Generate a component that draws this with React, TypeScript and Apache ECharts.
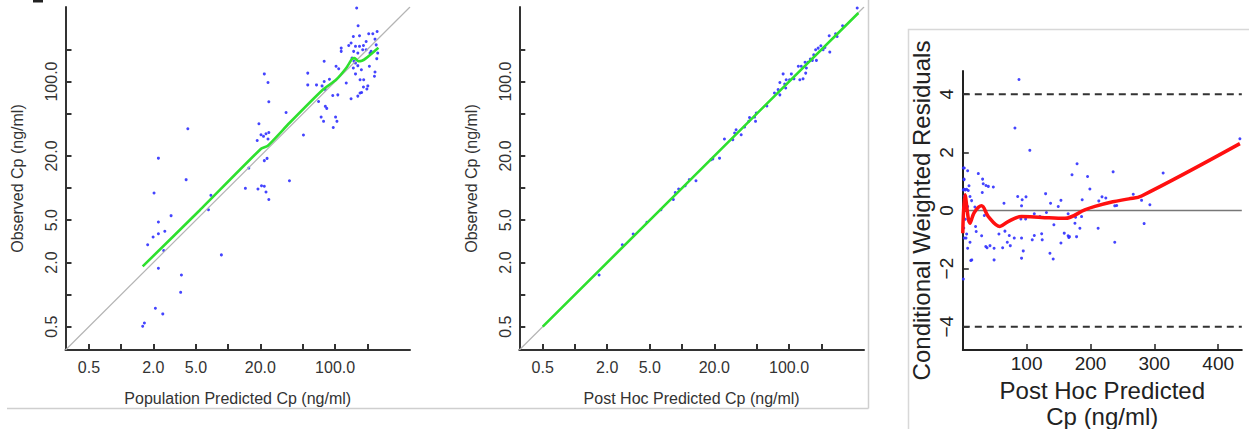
import React, { useEffect, useRef } from 'react';
import * as echarts from 'echarts';

// ---------- Panel 1: population predicted vs observed ----------
const popPred = [159, 164, 148, 169, 206, 225, 247, 134, 141, 155, 169, 195, 184, 236, 114, 114, 149, 163, 181, 195, 217, 250, 242, 79, 144, 150, 155, 163, 148, 209, 245, 212, 55.5, 102, 108, 155, 176, 236, 233, 55.5, 67, 79, 88.5, 75.5, 81, 127, 171, 185, 202, 198, 184, 177, 171, 163, 141, 70, 81, 83.5, 95, 106, 74, 78, 101, 104, 96, 50.6, 34.8, 21.8, 23.6, 24, 19.4, 20.3, 21.4, 22.6, 24, 23.6, 18.7, 21.8, 23.1, 15.6, 14.5, 19, 20.5, 21.8, 22.6, 24, 37.4, 4.2, 2.23, 4.05, 2.03, 6.9, 6.55, 2.93, 2.23, 1.99, 2.23, 2.56, 1.77, 2.5, 8.65, 2.23, 3.66, 3.6, 2.09, 2.45, 1.59, 1.65];
const popObs = [490, 334, 265, 269, 281, 281, 295, 218, 230, 214, 214, 238, 218, 250, 206, 192, 192, 185, 199, 199, 192, 185, 221, 155, 166, 155, 149, 141, 134, 139, 164, 185, 120, 139, 132, 118, 129, 123, 112, 93, 93, 100, 105, 91, 84, 97, 104, 104, 91, 85, 89, 79, 78, 73, 69, 65, 58.5, 56, 74, 75, 46.4, 42.3, 46.4, 42.3, 37, 31.5, 51.3, 118, 98, 64.7, 40.2, 31.7, 30.6, 32.4, 33.3, 28.9, 28, 18.1, 19, 15.4, 9.94, 9.8, 10.5, 10.4, 9.2, 7.8, 11.7, 36.1, 19.1, 12, 9.0, 8.55, 6.27, 5.51, 4.81, 3.47, 3.73, 3.93, 2.94, 2.59, 2.36, 1.77, 1.53, 1.05, 0.744, 0.659, 0.505, 0.542];
const popLoessX = [1.59, 5.4, 20.3, 23.5, 37.4, 76.7, 102, 127, 144, 152, 165, 178, 195, 254];
const popLoessY = [1.84, 6.16, 23.4, 25.0, 40.8, 83.8, 104, 134, 163, 166, 155, 157, 166, 208];

// ---------- Panel 2: post hoc predicted vs observed ----------
const phPred = [433, 316, 237, 281, 272, 240, 198, 187, 208, 216, 177, 170, 180, 165, 158, 150, 141, 130, 122, 145, 143, 135, 126, 111, 105, 88, 94, 82, 91, 101, 93, 82, 73, 79, 62, 47.6, 42.7, 48.6, 49.4, 42, 38.4, 32, 31, 35.7, 29.8, 24.9, 19.4, 22.4, 18.7, 13.5, 11.7, 10.7, 9.3, 8.65, 8.3, 6.35, 4.7, 3.5, 2.77, 1.68];
const phObs = [490, 334, 269, 265, 281, 189, 217, 206, 199, 209, 199, 178, 158, 158, 163, 152, 152, 139, 139, 134, 120, 106, 104, 106, 118, 118, 104, 98, 95, 104, 87, 75, 78, 84, 59, 46.4, 46, 42.3, 50.6, 42.3, 37.4, 35.3, 32.9, 31.7, 28.5, 28.9, 18.8, 19.1, 18.5, 11.7, 12.0, 10.5, 9.8, 9.1, 7.8, 6.27, 4.77, 3.71, 2.94, 1.53];
const phLoessX = [0.5, 10, 100, 444];
const phLoessY = [0.5, 10, 100, 440];

// ---------- Panel 3: CWRES vs post hoc predicted ----------
const cwPred = [88, 81.7, 105, 2.3, 7.6, 1.9, 9.7, 2.5, 6, 8.6, 11.3, 13.8, 2.3, 7.6, 19, 9.7, 20, 6, 2.3, 11.3, 7.6, 14, 12.5, 0.8, 21, 29.5, 24.3, 31, 32, 36.3, 40, 47.8, 30.5, 33.7, 36, 38, 42.6, 49, 49, 56.6, 62.4, 64.5, 66, 69.7, 72.8, 74.4, 80.6, 86, 92, 93, 99, 91, 98.4, 92, 94.7, 92, 108.8, 112, 112, 120.8, 124.4, 123.5, 129.7, 131, 137.5, 136.5, 141.6, 142.7, 149.5, 153.7, 153.7, 158.9, 165, 166, 167, 165, 171, 175.6, 176.6, 179, 178.2, 183.4, 186, 187, 195.4, 199, 212, 213, 218, 224, 235.5, 238, 241, 238, 267, 280, 293, 284, 313.8, 434, 0.8, 1.9, 3.8, 0.8, 5, 2.4, 4, 1.5];
const cwRes = [4.51, 2.84, 2.07, 1.46, 1.37, 1.08, 0.85, 0.73, 0.73, 0.69, 0.48, 0.34, 0.5, 0.14, 0.12, -0.38, -0.55, -0.81, -0.95, -1.09, -1.3, -1.7, -1.72, -2.36, -0.72, -0.87, 1.27, 1.08, 0.92, 0.86, 0.83, 0.81, 0.62, -0.17, -1.24, -1.28, -1.21, -1.3, -1.7, -0.81, -1.28, 0.25, -0.71, -1.09, -0.86, -1.21, -0.95, 0.48, 0.16, 0.37, 0.47, -0.29, -0.29, -0.95, -1.39, -1.64, -1.01, -0.86, -0.11, -0.21, -1.01, -0.8, 0.58, -0.07, 0.25, -1.47, -1.67, -0.49, 0.14, 0.35, -1.12, -0.78, -0.87, -0.93, -0.9, -0.11, 1.23, -0.44, -0.23, 1.61, -0.9, -0.61, -0.21, 0.37, 1.17, 0.74, -0.61, 0.33, 0.47, 0.43, 1.33, 0.16, 0.17, -1.09, 0.56, 0.35, 0.2, -0.45, 1.29, 2.47, 1.46, 1.06, 0.71, 0.71, -0.95, 0.37, -0.3, -0.6];
const cwLoessX = [0, 3.4, 11.3, 18, 29.5, 40, 58, 71, 92, 123.5, 160, 191, 207, 235, 260, 280, 434];
const cwLoessY = [-0.78, 0.54, -0.44, -0.07, 0.16, -0.21, -0.55, -0.38, -0.21, -0.24, -0.27, 0.02, 0.14, 0.3, 0.4, 0.5, 2.3];

// axis tick/label values
const logTickValues = [0.5, 1, 2, 5, 10, 20, 50, 100, 200];
const logLabelValues = [0.5, 2, 5, 20, 100];
const logRange = [0.302, 501];
const cwXTicks = [100, 200, 300, 400];
const cwYTicks = [-4, -2, 0, 2, 4];
const cwXRange = [0, 437];
const cwYRange = [-4.8, 4.8];
const cwBounds = [-4, 4];

const lg = (v: number) => Math.log10(v);
const FONT = 'Liberation Sans, Arial, Helvetica, sans-serif';
const AX = '#333';

function logAxis(gridIndex: number, isY: boolean, name: string, labelMargin: number) {
  return {
    gridIndex,
    type: 'value',
    min: lg(logRange[0]),
    max: lg(logRange[1]),
    name,
    nameLocation: 'middle',
    nameGap: 40,
    nameTextStyle: { fontSize: 16, color: '#333', fontFamily: FONT },
    axisLine: { show: true, onZero: false, lineStyle: { color: AX, width: 2 } },
    axisTick: {
      show: true,
      inside: true,
      length: 6,
      customValues: logTickValues.map(lg),
      lineStyle: { color: AX, width: 2 },
    },
    axisLabel: {
      customValues: logLabelValues.map(lg),
      formatter: (v: number) => Math.pow(10, v).toFixed(1),
      fontSize: 16,
      color: '#333',
      fontFamily: FONT,
      margin: labelMargin,
      rotate: isY ? 90 : 0,
    },
    splitLine: { show: false },
  };
}

const dot = { color: '#3030ff', opacity: 0.9 };

export default function App() {
  const ref = useRef<HTMLDivElement>(null);
  useEffect(() => {
    const chart = echarts.init(ref.current!, null, { renderer: 'svg' });
    const option: any = {
      animation: false,
      backgroundColor: '#fff',
      textStyle: { fontFamily: FONT },
      grid: [
        { left: 65.5, top: 7, width: 344.5, height: 343, outerBoundsMode: 'none' },
        { left: 519.3, top: 7, width: 344.7, height: 343, outerBoundsMode: 'none' },
        { left: 962.8, top: 71, width: 279, height: 279, outerBoundsMode: 'none' },
      ],
      xAxis: [
        logAxis(0, false, 'Population Predicted Cp (ng/ml)', 9),
        logAxis(1, false, 'Post Hoc Predicted Cp (ng/ml)', 9),
        {
          gridIndex: 2,
          type: 'value',
          min: cwXRange[0],
          max: cwXRange[1],
          name: 'Post Hoc Predicted\nCp (ng/ml)',
          nameLocation: 'middle',
          nameGap: 21,
          nameTextStyle: { fontSize: 24, lineHeight: 26, color: '#222', fontFamily: FONT },
          axisLine: { show: true, onZero: false, lineStyle: { color: '#222', width: 2 } },
          axisTick: { show: true, inside: true, length: 6, customValues: cwXTicks, lineStyle: { color: '#222', width: 1.5 } },
          axisLabel: { customValues: cwXTicks, fontSize: 19, color: '#222', margin: 4, fontFamily: FONT },
          splitLine: { show: false },
        },
      ],
      yAxis: [
        logAxis(0, true, 'Observed Cp (ng/ml)', 5.8),
        logAxis(1, true, 'Observed Cp (ng/ml)', 6.3),
        {
          gridIndex: 2,
          type: 'value',
          min: cwYRange[0],
          max: cwYRange[1],
          name: 'Conditional Weighted Residuals',
          nameLocation: 'middle',
          nameGap: 29,
          nameTextStyle: { fontSize: 24, color: '#222', fontFamily: FONT },
          axisLine: { show: true, onZero: false, lineStyle: { color: '#222', width: 2 } },
          axisTick: { show: true, inside: true, length: 6, customValues: cwYTicks, lineStyle: { color: '#222', width: 1.5 } },
          axisLabel: {
            customValues: cwYTicks,
            formatter: (v: number) => String(v).replace('-', '\u2212'),
            fontSize: 19,
            color: '#222',
            margin: 7,
            rotate: 90,
            fontFamily: FONT,
          },
          splitLine: { show: false },
        },
      ],
      series: [
        // panel 1
        {
          type: 'line', xAxisIndex: 0, yAxisIndex: 0, symbol: 'none', silent: true,
          data: logRange.map((v) => [lg(v), lg(v)]),
          lineStyle: { color: '#b4b4b4', width: 1.2 },
        },
        {
          type: 'scatter', xAxisIndex: 0, yAxisIndex: 0, symbolSize: 3, itemStyle: dot,
          data: popPred.map((x, i) => [lg(x), lg(popObs[i])]),
        },
        {
          type: 'line', xAxisIndex: 0, yAxisIndex: 0, symbol: 'none', smooth: 0.2,
          data: popLoessX.map((x, i) => [lg(x), lg(popLoessY[i])]),
          lineStyle: { color: '#2ee02e', width: 2.6 },
        },
        // panel 2
        {
          type: 'line', xAxisIndex: 1, yAxisIndex: 1, symbol: 'none', silent: true,
          data: logRange.map((v) => [lg(v), lg(v)]),
          lineStyle: { color: '#b4b4b4', width: 1.2 },
        },
        {
          type: 'scatter', xAxisIndex: 1, yAxisIndex: 1, symbolSize: 3, itemStyle: dot,
          data: phPred.map((x, i) => [lg(x), lg(phObs[i])]),
        },
        {
          type: 'line', xAxisIndex: 1, yAxisIndex: 1, symbol: 'none',
          data: phLoessX.map((x, i) => [lg(x), lg(phLoessY[i])]),
          lineStyle: { color: '#2ee02e', width: 2.6 },
        },
        // panel 3
        {
          type: 'line', xAxisIndex: 2, yAxisIndex: 2, symbol: 'none', silent: true,
          data: cwXRange.map((x) => [x, 0]),
          lineStyle: { color: '#777', width: 1.5 },
        },
        ...cwBounds.map((b) => ({
          type: 'line', xAxisIndex: 2, yAxisIndex: 2, symbol: 'none', silent: true,
          data: cwXRange.map((x) => [x, b]),
          lineStyle: { color: '#333', width: 2, type: [7, 5] },
        })),
        {
          type: 'scatter', xAxisIndex: 2, yAxisIndex: 2, symbolSize: 3, itemStyle: dot,
          data: cwPred.map((x, i) => [x, cwRes[i]]),
        },
        {
          type: 'line', xAxisIndex: 2, yAxisIndex: 2, symbol: 'none', smooth: 0.35,
          data: cwLoessX.map((x, i) => [x, cwLoessY[i]]),
          lineStyle: { color: '#ff1010', width: 3.5 },
        },
      ],
      graphic: [
        { type: 'line', shape: { x1: 7, y1: 408.5, x2: 868.5, y2: 408.5 }, style: { stroke: '#cfcfcf', lineWidth: 1.5 } },
        { type: 'line', shape: { x1: 868.5, y1: 0, x2: 868.5, y2: 408.5 }, style: { stroke: '#cfcfcf', lineWidth: 1.5 } },
        { type: 'rect', shape: { x: 908.5, y: 29.5, width: 400, height: 450 }, style: { fill: 'none', stroke: '#d8d8d8', lineWidth: 1.5 } },
        { type: 'rect', shape: { x: 33, y: 0, width: 10, height: 2.5 }, style: { fill: '#222' } },
      ],
    };
    chart.setOption(option);
    return () => chart.dispose();
  }, []);
  return (
    <div
      ref={ref}
      style={{ position: 'absolute', left: 0, top: 0, width: 1249, height: 429, background: '#fff' }}
    />
  );
}
